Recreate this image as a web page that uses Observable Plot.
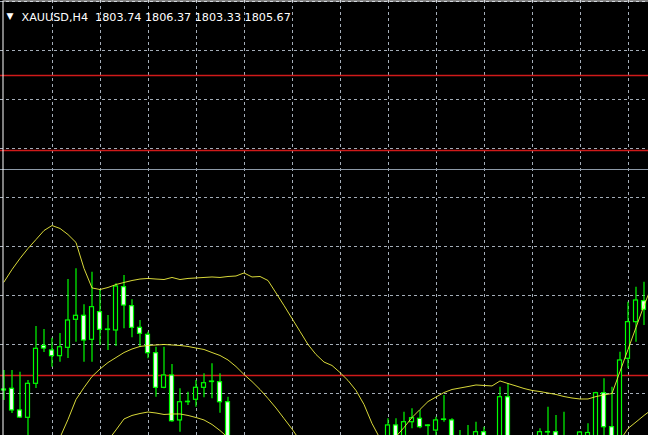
<!DOCTYPE html>
<html>
<head>
<meta charset="utf-8">
<script src="https://cdn.jsdelivr.net/npm/d3@7"></script>
<script src="https://cdn.jsdelivr.net/npm/@observablehq/plot@0.6"></script>
<style>
  html, body { margin: 0; padding: 0; background: #000; overflow: hidden; }
</style>
</head>
<body>
<div id="vis"></div>
<script>
// header
const symbolLabel = 'XAUUSD,H4'
const ohlcLabel = ['1803.74', '1806.37', '1803.33', '1805.67']

// candles (bar index, visible part of the H4 chart)
const candleIdx = [0,1,2,3,4,5,6,7,8,9,10,11,12,13,14,15,16,17,18,19,20,21,22,23,24,25,26,27,28,
  48,49,50,51,52,53,54,55,56,57,58,59,60, 62,63, 67,68,69,70, 72,73,74,75,76,77,78,79,80]
const opens = [1785.31,1785.48,1783.27,1782.52,1785.99,1789.85,1789.39,1788.81,1789.66,1792.52,1792.93,1790.48,1793.30,1791.48,1791.43,1795.85,1793.91,1791.70,1790.99,1789.11,1785.58,1786.84,1782.25,1784.11,1784.36,1785.58,1786.22,1786.15,1784.11,
  1779.69,1781.74,1779.69,1782.07,1782.42,1781.74,1781.22,1782.30,1782.25,1780.20,1780.20,1779.69,1781.05,
  1778.67,1784.62, 1779.69,1781.02,1781.05,1780.20,
  1779.69,1779.69,1779.69,1785.03,1781.56,1779.69,1788.54,1792.28,1794.42]
const highs = [1787.35,1787.35,1787.17,1786.33,1791.84,1791.53,1790.64,1791.12,1796.63,1797.72,1794.05,1797.38,1795.61,1792.96,1796.19,1797.04,1794.56,1792.45,1791.26,1789.72,1789.72,1787.96,1785.48,1785.13,1786.33,1787.01,1788.03,1787.01,1784.62,
  1782.42,1782.42,1783.09,1783.44,1783.27,1781.81,1782.58,1784.80,1782.42,1781.22,1781.74,1782.07,1781.56,
  1785.64,1785.99, 1781.40,1783.60,1782.76,1783.09,
  1781.12,1781.91,1785.13,1786.50,1785.64,1789.21,1794.32,1795.85,1796.36]
const lows = [1784.29,1782.96,1782.45,1779.69,1785.51,1789.18,1787.68,1788.19,1788.57,1790.24,1788.19,1788.19,1789.90,1789.39,1789.80,1791.60,1790.68,1789.72,1788.54,1784.62,1785.48,1782.07,1781.05,1783.78,1783.60,1784.56,1784.46,1782.99,1779.18,
  1779.18,1779.18,1779.18,1781.40,1781.40,1780.20,1780.20,1782.07,1779.18,1779.18,1779.18,1779.18,1779.18,
  1778.16,1778.16, 1779.18,1780.20,1779.18,1779.18,
  1779.18,1779.18,1779.18,1780.20,1779.18,1779.18,1787.52,1790.24,1791.94]
const closes = [1785.41,1783.27,1782.55,1785.99,1789.56,1789.59,1788.81,1789.72,1792.45,1792.93,1790.41,1793.81,1791.50,1791.53,1795.92,1793.98,1791.70,1791.09,1789.11,1785.58,1786.84,1782.17,1784.11,1784.16,1785.58,1786.05,1786.17,1784.11,1779.69,
  1781.74,1779.69,1782.07,1782.48,1781.56,1781.68,1782.25,1782.35,1779.69,1779.69,1779.69,1781.05,1779.69,
  1784.62,1778.67, 1781.05,1781.07,1779.69,1779.69,
  1781.02,1780.97,1785.03,1781.56,1779.69,1788.37,1792.28,1794.49,1793.54]

// bollinger bands
const upperBand = [1796.38,1797.65,1798.78,1799.80,1800.71,1801.63,1802.14,1801.84,1801.22,1800.41,
  1797.76,1795.77,1795.61,1795.82,1796.12,1796.33,1796.53,1796.68,1796.74,1796.68,
  1796.63,1796.84,1796.63,1796.74,1796.79,1796.84,1796.89,1796.84,1796.94,1796.99,
  1797.30,1796.89,1796.94,1796.53,1795.26,1793.98,1792.65,1791.33,1790.00,1788.98,
  1788.21,1787.86,1787.14,1786.33,1785.31,1783.88,1781.94,1780.41,1779.49,1780.61,
  1781.53,1782.55,1783.37,1784.18,1784.64,1785.10,1785.41,1785.56,1785.71,1785.87,
  1785.82,1785.77,1786.28,1786.02,1785.77,1785.51,1785.31,1785.20,1785.05,1784.90,
  1784.69,1784.54,1784.44,1784.44,1784.69,1784.85,1785.00,1787.25,1789.49,1791.74,
  1793.98,1796.02]
const midIdx = [7,8,9,10,11,12,13,14,15,16,17,18,19,20,21,22,23,24,25,26,27,28,29,30,31,32,33,34,35,36,37, 57, 77,78,79,80,81]
const midBand = [1780.51,1782.35,1784.39,1785.61,1786.73,1787.50,1788.16,1788.67,1789.18,1789.54,
  1789.80,1789.90,1789.95,1790.00,1789.95,1789.90,1789.80,1789.64,1789.49,1789.18,
  1788.88,1788.42,1787.75,1786.94,1786.22,1785.41,1784.49,1783.52,1782.45,1781.38,
  1780.20, null, 1780.20,1781.43,1782.09,1782.76,1783.37]
const lowIdx = [13,14,15,16,17,18,19,20,21,22,23,24,25,26,27,28]
const lowBand = [1780.20,1781.28,1782.40,1782.76,1782.96,1783.11,1783.01,1782.86,1782.91,1782.91,1782.76,1782.55,1782.30,1781.84,1781.22,1780.51]

// levels and grid
const redLevels = [1817.45, 1809.80, 1786.84]
const bidLevel = [1807.89]
const gridPrices = [1825, 1820, 1815, 1810, 1805, 1800, 1795, 1790, 1785]
const gridBars = [6,12,18,24,30,36,42,48,54,60,66,72,78]

const green = '#00ff00'
const candles = candleIdx.map((i, k) => ({i, open: opens[k], high: highs[k], low: lows[k], close: closes[k]}))
const bull = candles.filter(d => d.close >= d.open)
const bear = candles.filter(d => d.close < d.open)
const upper = upperBand.map((v, i) => ({i, v}))
const middle = midIdx.map((i, k) => ({i, v: midBand[k]}))
const lower = lowIdx.map((i, k) => ({i, v: lowBand[k]}))

let chart = Plot.plot({
  width: 648,
  height: 435,
  margin: 0,
  x: {domain: [-0.4375, 80.5625], axis: null},
  y: {domain: [1780.714, 1825.102], axis: null},
  marks: [
    Plot.ruleY(gridPrices, {stroke: '#a4adb8', strokeDasharray: '3,3', shapeRendering: 'crispEdges'}),
    Plot.ruleX(gridBars, {stroke: '#a4adb8', strokeDasharray: '3,3', shapeRendering: 'crispEdges'}),
    Plot.ruleY(redLevels, {stroke: '#d01a1a', strokeWidth: 1.6}),
    Plot.ruleY(bidLevel, {stroke: '#8e9aa8', shapeRendering: 'crispEdges'}),
    Plot.ruleX(candles, {x: 'i', y1: 'low', y2: 'high', stroke: green, strokeWidth: 1.2, clip: true}),
    Plot.rect(bull, {x1: d => d.i - 0.25, x2: d => d.i + 0.25, y1: 'open', y2: 'close', fill: '#000', stroke: green, strokeWidth: 1.2, clip: true}),
    Plot.rect(bear, {x1: d => d.i - 0.25, x2: d => d.i + 0.25, y1: 'open', y2: 'close', fill: '#f4fff4', stroke: green, strokeWidth: 1.2, clip: true}),
    Plot.line(upper, {x: 'i', y: 'v', stroke: '#f0f040', strokeWidth: 0.9, clip: true}),
    Plot.line(middle, {x: 'i', y: 'v', stroke: '#f0f040', strokeWidth: 0.9, clip: true}),
    Plot.line(lower, {x: 'i', y: 'v', stroke: '#f0f040', strokeWidth: 0.9, clip: true}),
    Plot.frame({stroke: '#fff', insetLeft: 2.5, insetTop: 0.5, insetRight: -3, insetBottom: -3}),
    Plot.text(['▼'], {frameAnchor: 'top-left', dx: 6, dy: 12, fill: '#fff', fontSize: 9, fontFamily: 'DejaVu Sans', textAnchor: 'start'}),
    Plot.text([symbolLabel + '  ' + ohlcLabel.join(' ')], {frameAnchor: 'top-left', dx: 21, dy: 13, fill: '#fff', fontSize: 11.2, fontFamily: 'DejaVu Sans', textAnchor: 'start'}),
  ],
  style: {
    background: '#000',
    color: '#fff',
  }
})
d3.select('#vis').append(() => chart)
</script>
</body>
</html>
